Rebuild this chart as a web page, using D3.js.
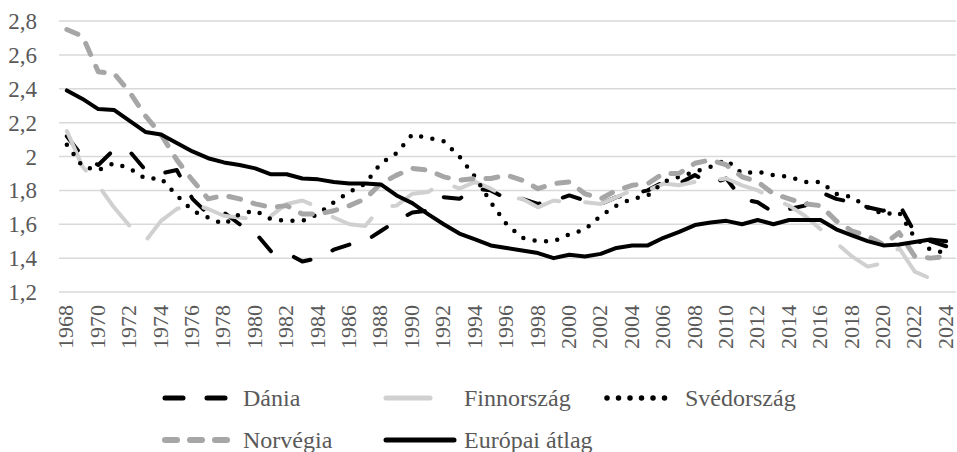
<!DOCTYPE html>
<html>
<head>
<meta charset="utf-8">
<script src="https://cdn.jsdelivr.net/npm/d3@7"></script>
<style>
  body { margin: 0; background: #fff; }
</style>
</head>
<body>
<div id="chart"></div>
<script>
// years 1968..2024
const years = d3.range(1968, 2025);

const dania = [2.12, 2.00, 1.95, 2.04, 2.03, 1.92, 1.90, 1.92, 1.75, 1.66, 1.67, 1.60, 1.55, 1.44, 1.43, 1.38, 1.40, 1.45, 1.48, 1.50,
  1.56, 1.62, 1.67, 1.68, 1.76, 1.75, 1.81, 1.80, 1.75, 1.75, 1.72, 1.74, 1.77, 1.74, 1.72, 1.76, 1.78, 1.80, 1.85, 1.84,
  1.89, 1.84, 1.87, 1.75, 1.73, 1.67, 1.69, 1.71, 1.79, 1.75, 1.73, 1.70, 1.68, 1.72, 1.55, 1.50, 1.47];

const finnorszag = [2.15, 1.94, 1.83, 1.70, 1.59, 1.50, 1.62, 1.69, 1.72, 1.69, 1.65, 1.64, 1.63, 1.65, 1.72, 1.74, 1.70, 1.64, 1.60, 1.59,
  1.70, 1.71, 1.78, 1.79, 1.85, 1.81, 1.85, 1.81, 1.76, 1.75, 1.70, 1.74, 1.73, 1.73, 1.72, 1.76, 1.80, 1.80, 1.84, 1.83,
  1.85, 1.86, 1.87, 1.83, 1.80, 1.75, 1.71, 1.65, 1.57, 1.49, 1.41, 1.35, 1.37, 1.46, 1.32, 1.28, 1.29];

const svedorszag = [2.07, 1.94, 1.92, 1.96, 1.93, 1.87, 1.87, 1.77, 1.68, 1.64, 1.60, 1.66, 1.68, 1.63, 1.62, 1.62, 1.66, 1.73, 1.79, 1.84,
  1.96, 2.02, 2.13, 2.11, 2.09, 2.00, 1.88, 1.73, 1.60, 1.52, 1.50, 1.50, 1.54, 1.57, 1.65, 1.71, 1.75, 1.77, 1.85, 1.88,
  1.91, 1.94, 1.98, 1.90, 1.91, 1.89, 1.88, 1.85, 1.85, 1.78, 1.76, 1.70, 1.66, 1.67, 1.52, 1.45, 1.43];

const norvegia = [2.75, 2.71, 2.50, 2.49, 2.38, 2.24, 2.13, 1.98, 1.86, 1.75, 1.77, 1.75, 1.72, 1.70, 1.71, 1.66, 1.66, 1.68, 1.71, 1.75,
  1.84, 1.89, 1.93, 1.92, 1.88, 1.86, 1.87, 1.87, 1.89, 1.86, 1.81, 1.84, 1.85, 1.78, 1.75, 1.80, 1.83, 1.84, 1.90, 1.90,
  1.96, 1.98, 1.95, 1.88, 1.85, 1.78, 1.75, 1.72, 1.71, 1.62, 1.56, 1.53, 1.48, 1.55, 1.41, 1.40, 1.41];

const europaiAtlag = [2.39, 2.34, 2.28, 2.275, 2.21, 2.145, 2.13, 2.08, 2.03, 1.99, 1.965, 1.95, 1.93, 1.895, 1.895, 1.87, 1.865, 1.85, 1.84, 1.84,
  1.835, 1.77, 1.725, 1.66, 1.60, 1.545, 1.51, 1.475, 1.46, 1.445, 1.43, 1.40, 1.42, 1.41, 1.425, 1.46, 1.475, 1.475, 1.52, 1.555,
  1.595, 1.61, 1.62, 1.60, 1.625, 1.60, 1.625, 1.625, 1.625, 1.57, 1.535, 1.50, 1.475, 1.48, 1.495, 1.51, 1.50];

const yTicks = [1.2, 1.4, 1.6, 1.8, 2.0, 2.2, 2.4, 2.6, 2.8];
const xTickYears = years.filter(y => (y - 1968) % 2 === 0);

const seriesNames = ["Dánia", "Finnország", "Svédország", "Norvégia", "Európai átlag"];
const seriesValues = [dania, finnorszag, svedorszag, norvegia, europaiAtlag];

// line styles per series
const styles = [
  { color: "#000000", width: 4, dash: "18,24" },
  { color: "#d0d0d0", width: 4, dash: "44,26" },
  { color: "#000000", width: 4.5, dash: "0,11.5" },
  { color: "#a6a6a6", width: 5, dash: "12,13" },
  { color: "#000000", width: 4, dash: null }
];

const width = 957, height = 452;
const plot = { left: 59, right: 954, top: 21, bottom: 292 };
const serif = '"Times New Roman", Tinos, "Liberation Serif", "DejaVu Serif", serif';

const svg = d3.select("#chart").append("svg")
  .attr("width", width)
  .attr("height", height);

const x = d3.scalePoint()
  .domain(years)
  .range([plot.left, plot.right])
  .padding(0.5);

const y = d3.scaleLinear()
  .domain([1.2, 2.8])
  .range([plot.bottom, plot.top]);

const fmt = v => d3.format(".1f")(v).replace(/\.0$/, "").replace(".", ",");

// gridlines
svg.append("g")
  .selectAll("line")
  .data(yTicks)
  .enter().append("line")
  .attr("x1", plot.left)
  .attr("x2", 956)
  .attr("y1", d => y(d))
  .attr("y2", d => y(d))
  .attr("stroke", "#d9d9d9")
  .attr("stroke-width", 1.5);

// y labels
svg.append("g")
  .selectAll("text")
  .data(yTicks)
  .enter().append("text")
  .attr("x", 37)
  .attr("y", d => y(d) + 8)
  .attr("text-anchor", "end")
  .style("font-family", serif)
  .attr("font-size", 23)
  .attr("fill", "#595959")
  .text(d => fmt(d));

// x labels (rotated)
svg.append("g")
  .selectAll("text")
  .data(xTickYears)
  .enter().append("text")
  .attr("transform", d => `translate(${x(d)}, 305) rotate(-90)`)
  .attr("text-anchor", "end")
  .attr("dy", "0.3em")
  .style("font-family", serif)
  .attr("font-size", 22)
  .attr("fill", "#595959")
  .text(d => d);

// lines
const line = d3.line()
  .x((d, i) => x(years[i]))
  .y(d => y(d));

seriesValues.forEach((vals, i) => {
  const s = styles[i];
  svg.append("path")
    .datum(vals)
    .attr("d", line)
    .attr("fill", "none")
    .attr("stroke", s.color)
    .attr("stroke-width", s.width)
    .attr("stroke-linecap", "round")
    .attr("stroke-linejoin", "round")
    .attr("stroke-dasharray", s.dash);
});

// legend
const legendCols = [165, 386, 607];
const legendRows = [398, 440];
const legend = svg.append("g");

seriesNames.forEach((name, i) => {
  const col = i % 3, row = Math.floor(i / 3);
  const lx = legendCols[col], ly = legendRows[row];
  const s = styles[i];
  legend.append("line")
    .attr("x1", lx).attr("x2", lx + 68)
    .attr("y1", ly).attr("y2", ly)
    .attr("stroke", s.color)
    .attr("stroke-width", s.width + 1)
    .attr("stroke-linecap", "round")
    .attr("stroke-dasharray", s.dash);
  legend.append("text")
    .attr("x", lx + 78)
    .attr("y", ly)
    .attr("dy", "0.33em")
    .style("font-family", serif)
    .attr("font-size", 24)
    .attr("fill", "#595959")
    .text(name);
});
</script>
</body>
</html>
